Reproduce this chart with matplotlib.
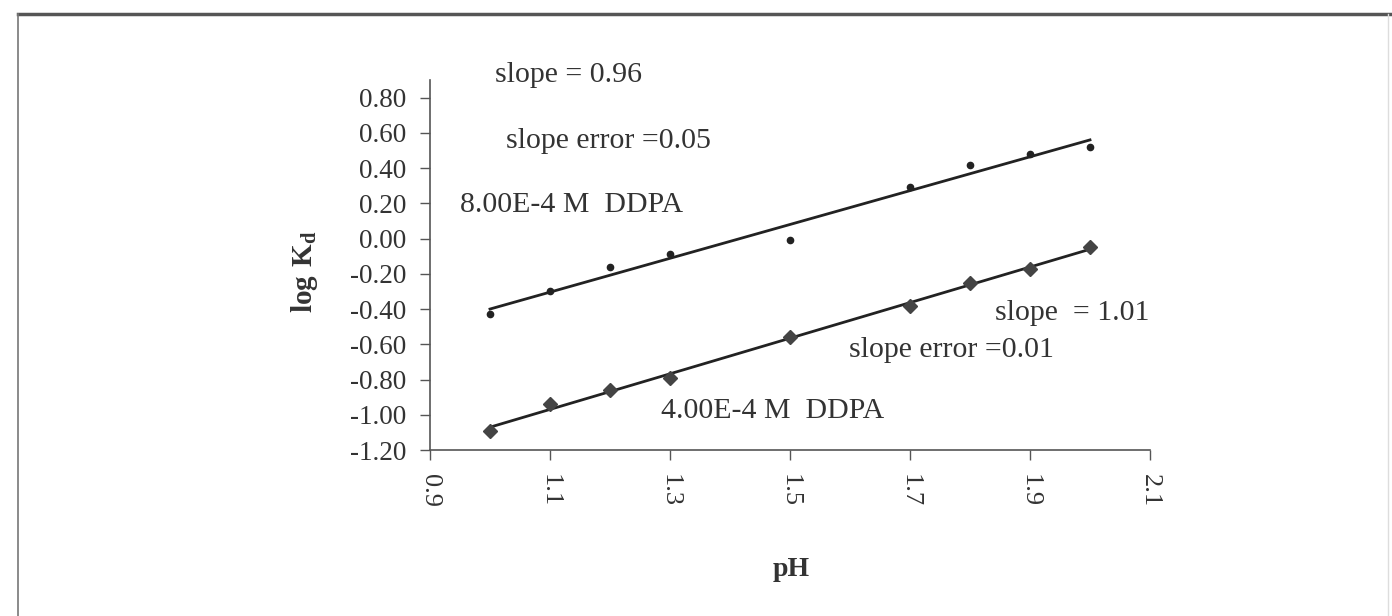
import numpy as np
import matplotlib
matplotlib.use("Agg")
import matplotlib.pyplot as plt
from matplotlib.lines import Line2D

plt.rcParams['font.family'] = ['Liberation Serif', 'DejaVu Serif']
plt.rcParams['mathtext.fontset'] = 'custom'
plt.rcParams['mathtext.rm'] = 'Liberation Serif'
plt.rcParams['mathtext.bf'] = 'Liberation Serif:bold'

# pH values shared by both DDPA concentrations
ph = [1.0, 1.1, 1.2, 1.3, 1.5, 1.7, 1.8, 1.9, 2.0]
# log Kd for 8.00E-4 M DDPA
logkd_8e4 = [-0.43, -0.30, -0.16, -0.09, -0.01, 0.29, 0.42, 0.48, 0.52]
# log Kd for 4.00E-4 M DDPA
logkd_4e4 = [-1.09, -0.94, -0.86, -0.79, -0.56, -0.38, -0.25, -0.17, -0.05]

# fitted slopes reported on the chart
slope_8e4 = 0.96
slope_4e4 = 1.01

x_ticks = [0.9, 1.1, 1.3, 1.5, 1.7, 1.9, 2.1]
y_ticks = [-1.2, -1.0, -0.8, -0.6, -0.4, -0.2, 0.0, 0.2, 0.4, 0.6, 0.8]

ink = '#333333'
W, H = 1392, 616
fig = plt.figure(figsize=(W / 100, H / 100), dpi=100)
fig.patch.set_facecolor('white')

# page frame
fig.add_artist(Line2D([18 / W, 1.0], [1 - 14 / H] * 2, transform=fig.transFigure,
                      color='#555555', lw=2.5))
fig.add_artist(Line2D([18 / W] * 2, [0, 1 - 14 / H], transform=fig.transFigure,
                      color='#777777', lw=1.2))
fig.add_artist(Line2D([1388 / W] * 2, [0, 1 - 14 / H], transform=fig.transFigure,
                      color='#dddddd', lw=1.0))

ax = fig.add_axes([430 / W, 1 - 450 / H, 720 / W, 370 / H])
ax.set_xlim(0.9, 2.1)
ax.set_ylim(-1.2, 0.9)
for s in ['top', 'right']:
    ax.spines[s].set_visible(False)
for s in ['left', 'bottom']:
    ax.spines[s].set_color('#555555')
    ax.spines[s].set_linewidth(1.2)

ax.set_xticks(x_ticks)
ax.set_xticklabels([f'{v:.1f}' for v in x_ticks], rotation=270, fontsize=19, color=ink)
ax.set_yticks(y_ticks)
ax.set_yticklabels([f'{v:.2f}' for v in y_ticks], fontsize=19.5, color=ink)
ax.tick_params(axis='both', direction='out', length=7, width=1.0, color='#555555')
ax.tick_params(axis='x', pad=10)
ax.tick_params(axis='y', pad=10)

ph_arr = np.array(ph)
for yv, slope in [(logkd_8e4, slope_8e4), (logkd_4e4, slope_4e4)]:
    y_arr = np.array(yv)
    intercept = y_arr.mean() - slope * ph_arr.mean()
    xs = np.array([ph_arr.min(), ph_arr.max()])
    ax.plot(xs, slope * xs + intercept, color='#222222', lw=2.0, zorder=2)

ax.plot(ph, logkd_8e4, linestyle='none', marker='o', markersize=4.5,
        color='#222222', zorder=3)
ax.plot(ph, logkd_4e4, linestyle='none', marker='D', markersize=7,
        color='#444444', zorder=3)

txt = dict(fontsize=21.5, color=ink, va='center', ha='left', clip_on=False)
ax.text(1.008, 0.93, 'slope = 0.96', **txt)
ax.text(1.027, 0.556, 'slope error =0.05', **txt)
ax.text(0.95, 0.192, '8.00E-4 M  DDPA', **txt)
ax.text(1.842, -0.42, 'slope  = 1.01', **txt)
ax.text(1.598, -0.632, 'slope error =0.01', **txt)
ax.text(1.285, -0.978, '4.00E-4 M  DDPA', **txt)

fig.text(305 / W, 1 - 272 / H, r'$\mathbf{log\ K_d}$', rotation=90,
         ha='center', va='center', fontsize=21, color=ink)
fig.text(791 / W, 1 - 570 / H, 'pH', fontweight='bold',
         ha='center', va='center', fontsize=20, color=ink)

fig.savefig('out.png', dpi=100, facecolor='white')
